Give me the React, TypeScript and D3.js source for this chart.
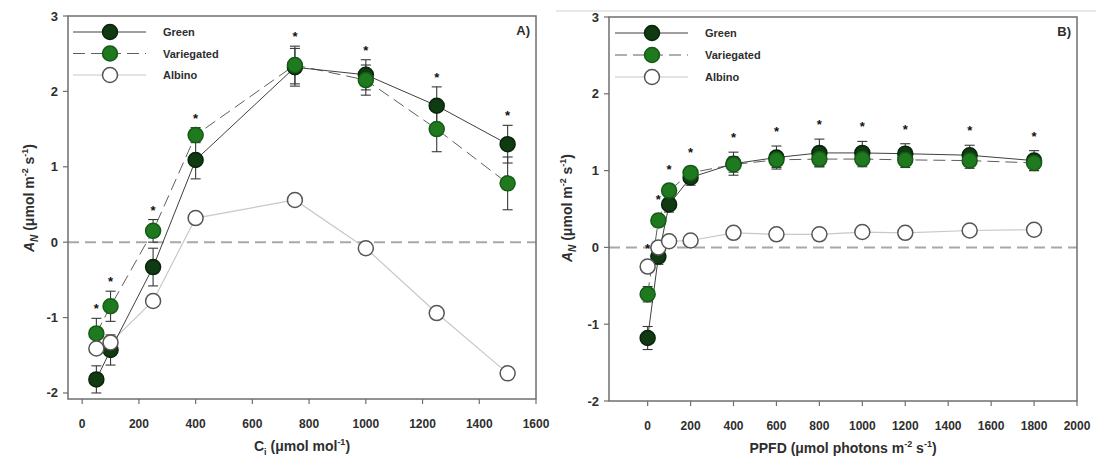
import React from "react";
import * as d3 from "d3";

// Panel A: response of net assimilation to intercellular CO2
const ciLevels = [50, 100, 250, 400, 750, 1000, 1250, 1500];
const ciGreen = [-1.82, -1.43, -0.33, 1.09, 2.32, 2.22, 1.81, 1.3];
const ciGreenErr = [0.18, 0.2, 0.25, 0.25, 0.25, 0.2, 0.25, 0.25];
const ciVariegated = [-1.21, -0.85, 0.15, 1.42, 2.35, 2.15, 1.5, 0.78];
const ciVariegatedErr = [0.2, 0.2, 0.15, 0.1, 0.25, 0.2, 0.3, 0.35];
const ciAlbino = [-1.41, -1.33, -0.78, 0.32, 0.56, -0.08, -0.94, -1.74];
const ciAlbinoErr = [0.05, 0.05, 0.05, 0.05, 0.05, 0.06, 0.05, 0.05];
const ciSignificant = [true, true, true, true, true, true, true, true];
const ciTicks = [0, 200, 400, 600, 800, 1000, 1200, 1400, 1600];

// Panel B: light response curve
const ppfdLevels = [0, 50, 100, 200, 400, 600, 800, 1000, 1200, 1500, 1800];
const ppfdGreen = [-1.18, -0.12, 0.56, 0.91, 1.09, 1.17, 1.23, 1.23, 1.22, 1.2, 1.13];
const ppfdGreenErr = [0.15, 0.1, 0.1, 0.1, 0.15, 0.15, 0.18, 0.15, 0.13, 0.13, 0.13];
const ppfdVariegated = [-0.61, 0.35, 0.74, 0.97, 1.08, 1.14, 1.15, 1.15, 1.14, 1.13, 1.1];
const ppfdVariegatedErr = [0.1, 0.08, 0.08, 0.08, 0.1, 0.1, 0.1, 0.1, 0.1, 0.1, 0.1];
const ppfdAlbino = [-0.25, 0.0, 0.08, 0.09, 0.19, 0.17, 0.17, 0.2, 0.19, 0.22, 0.23];
const ppfdAlbinoErr = [0.05, 0.05, 0.04, 0.04, 0.04, 0.04, 0.04, 0.04, 0.04, 0.04, 0.04];
const ppfdSignificant = [true, true, true, true, true, true, true, true, true, true, true];
const ppfdTicks = [0, 200, 400, 600, 800, 1000, 1200, 1400, 1600, 1800, 2000];

const yTicks = [-2, -1, 0, 1, 2, 3];
const seriesNames = ["Green", "Variegated", "Albino"];

const FONT = "'Liberation Sans', Arial, sans-serif";
const TEXT = "#2e2e2e";

type Series = {
  name: string;
  values: number[];
  errors: number[];
  fill: string;
  stroke: string;
  line: string;
  dash?: string;
  lineWidth: number;
};

type PanelProps = {
  x0: number;
  x1: number;
  yTop: number;
  yBottom: number;
  xDomain: [number, number];
  yDomain: [number, number];
  xs: number[];
  series: Series[];
  significant: boolean[];
  xTicks: number[];
  starOffset: number;
  tag: string;
  legendX: number;
  legendY: number;
  legendGap: number;
  yLabelX: number;
  yLabelY: number;
  xLabel: React.ReactNode;
};

function Panel(p: PanelProps) {
  const x = d3.scaleLinear().domain(p.xDomain).range([p.x0, p.x1]);
  const y = d3.scaleLinear().domain(p.yDomain).range([p.yBottom, p.yTop]);
  const r = 7.5;

  const lineGen = (vals: number[]) =>
    d3
      .line<number>()
      .x((_, i) => x(p.xs[i]))
      .y((v) => y(v))(vals) || "";

  const drawOrder = [...p.series];

  return (
    <g>
      {/* zero reference */}
      <line
        x1={p.x0}
        x2={p.x1}
        y1={y(0)}
        y2={y(0)}
        stroke="#a8a8a8"
        strokeWidth={2}
        strokeDasharray="11,6"
      />
      {/* connecting lines */}
      {drawOrder
        .slice()
        .reverse()
        .map((s) => (
          <path
            key={"l" + s.name}
            d={lineGen(s.values)}
            fill="none"
            stroke={s.line}
            strokeWidth={s.lineWidth}
            strokeDasharray={s.dash}
          />
        ))}
      {/* error bars */}
      {drawOrder.map((s) =>
        s.values.map((v, i) => {
          const cx = x(p.xs[i]);
          const t = y(v + s.errors[i]);
          const b = y(v - s.errors[i]);
          return (
            <g key={"e" + s.name + i} stroke="#383838" strokeWidth={1.1}>
              <line x1={cx} x2={cx} y1={t} y2={b} />
              <line x1={cx - 5} x2={cx + 5} y1={t} y2={t} />
              <line x1={cx - 5} x2={cx + 5} y1={b} y2={b} />
            </g>
          );
        })
      )}
      {/* markers */}
      {drawOrder.map((s) =>
        s.values.map((v, i) => (
          <circle
            key={"m" + s.name + i}
            cx={x(p.xs[i])}
            cy={y(v)}
            r={r}
            fill={s.fill}
            stroke={s.stroke}
            strokeWidth={1.5}
          />
        ))
      )}
      {/* significance marks */}
      {p.xs.map((xv, i) => {
        if (!p.significant[i]) return null;
        const top = d3.max(p.series, (s) => s.values[i] + s.errors[i]) as number;
        return (
          <text
            key={"s" + i}
            x={x(xv)}
            y={y(top) - p.starOffset + 7}
            textAnchor="middle"
            fontFamily={FONT}
            fontWeight="bold"
            fontSize={13}
            fill="#111"
          >
            *
          </text>
        );
      })}
      {/* frame */}
      <rect
        x={p.x0}
        y={p.yTop}
        width={p.x1 - p.x0}
        height={p.yBottom - p.yTop}
        fill="none"
        stroke="#6f6f6f"
        strokeWidth={1.5}
      />
      {/* y axis */}
      {yTicks.map((t) => (
        <g key={"yt" + t}>
          <line x1={p.x0 - 5} x2={p.x0} y1={y(t)} y2={y(t)} stroke="#6f6f6f" strokeWidth={1.2} />
          <text
            x={p.x0 - 10}
            y={y(t) + 4.5}
            textAnchor="end"
            fontFamily={FONT}
            fontWeight="bold"
            fontSize={13}
            fill={TEXT}
          >
            {t}
          </text>
        </g>
      ))}
      {/* x axis */}
      {p.xTicks.map((t) => (
        <g key={"xt" + t}>
          <line x1={x(t)} x2={x(t)} y1={p.yBottom} y2={p.yBottom + 5} stroke="#6f6f6f" strokeWidth={1.2} />
          <text
            x={x(t)}
            y={p.yBottom + 29}
            textAnchor="middle"
            fontFamily={FONT}
            fontWeight="bold"
            fontSize={12}
            fill={TEXT}
          >
            {t}
          </text>
        </g>
      ))}
      {/* panel tag */}
      <text x={p.x1 - 6} y={p.yTop + 19} textAnchor="end" fontFamily={FONT} fontWeight="bold" fontSize={13} fill={TEXT}>
        {p.tag}
      </text>
      {/* legend */}
      {p.series.map((s, i) => {
        const ly = p.legendY + i * p.legendGap;
        return (
          <g key={"lg" + s.name}>
            <line
              x1={p.legendX}
              x2={p.legendX + 73}
              y1={ly}
              y2={ly}
              stroke={s.line}
              strokeWidth={s.lineWidth}
              strokeDasharray={s.dash}
            />
            <circle cx={p.legendX + 37} cy={ly} r={r} fill={s.fill} stroke={s.stroke} strokeWidth={1.5} />
            <text x={p.legendX + 90} y={ly + 4} fontFamily={FONT} fontWeight="bold" fontSize={11} fill={TEXT}>
              {seriesNames[i]}
            </text>
          </g>
        );
      })}
      {/* y label */}
      <text
        transform={`translate(${p.yLabelX},${p.yLabelY}) rotate(-90)`}
        textAnchor="middle"
        fontFamily={FONT}
        fontWeight="bold"
        fontSize={14}
        fill={TEXT}
      >
        <tspan fontStyle="italic">A</tspan>
        <tspan fontStyle="italic" fontSize={10} dy={4}>
          N
        </tspan>
        <tspan dy={-4}> (μmol m</tspan>
        <tspan fontSize={9} dy={-6}>
          -2
        </tspan>
        <tspan dy={6}> s</tspan>
        <tspan fontSize={9} dy={-6}>
          -1
        </tspan>
        <tspan dy={6}>)</tspan>
      </text>
      {/* x label */}
      <text
        x={(p.x0 + p.x1) / 2}
        y={p.yBottom + 52}
        textAnchor="middle"
        fontFamily={FONT}
        fontWeight="bold"
        fontSize={14}
        fill={TEXT}
      >
        {p.xLabel}
      </text>
    </g>
  );
}

function makeSeries(g: number[], ge: number[], v: number[], ve: number[], a: number[], ae: number[]): Series[] {
  return [
    { name: "Green", values: g, errors: ge, fill: "#0f3a12", stroke: "#0a240b", line: "#404040", lineWidth: 1 },
    {
      name: "Variegated",
      values: v,
      errors: ve,
      fill: "#1f7a1f",
      stroke: "#155a15",
      line: "#5e5e5e",
      dash: "12,6",
      lineWidth: 1,
    },
    { name: "Albino", values: a, errors: ae, fill: "#ffffff", stroke: "#555555", line: "#c8c8c8", lineWidth: 1.2 },
  ];
}

export default function App() {
  const seriesA = makeSeries(ciGreen, ciGreenErr, ciVariegated, ciVariegatedErr, ciAlbino, ciAlbinoErr);
  const seriesB = makeSeries(ppfdGreen, ppfdGreenErr, ppfdVariegated, ppfdVariegatedErr, ppfdAlbino, ppfdAlbinoErr);
  return (
    <svg
      width={1096}
      height={465}
      style={{ position: "absolute", left: 0, top: 0, background: "#fff" }}
    >
      <rect width={1096} height={465} fill="#fff" />
      <line x1={556} x2={1096} y1={11} y2={11} stroke="#d0d0d0" strokeWidth={1} />
      <Panel
        x0={68}
        x1={536}
        yTop={16}
        yBottom={399}
        xDomain={[-50, 1600]}
        yDomain={[-2.08, 3]}
        xs={ciLevels}
        series={seriesA}
        significant={ciSignificant}
        xTicks={ciTicks}
        starOffset={12}
        tag="A)"
        legendX={73}
        legendY={32}
        legendGap={21.5}
        yLabelX={34}
        yLabelY={198}
        xLabel={
          <>
            <tspan>C</tspan>
            <tspan fontSize={9} dy={4}>
              i
            </tspan>
            <tspan dy={-4}> (μmol mol</tspan>
            <tspan fontSize={9} dy={-6}>
              -1
            </tspan>
            <tspan dy={6}>)</tspan>
          </>
        }
      />
      <Panel
        x0={609}
        x1={1077}
        yTop={17}
        yBottom={401}
        xDomain={[-180, 2000]}
        yDomain={[-2, 3]}
        xs={ppfdLevels}
        series={seriesB}
        significant={ppfdSignificant}
        xTicks={ppfdTicks}
        starOffset={17}
        tag="B)"
        legendX={615}
        legendY={33}
        legendGap={22}
        yLabelX={572}
        yLabelY={208}
        xLabel={
          <>
            <tspan>PPFD (μmol photons m</tspan>
            <tspan fontSize={9} dy={-6}>
              -2
            </tspan>
            <tspan dy={6}> s</tspan>
            <tspan fontSize={9} dy={-6}>
              -1
            </tspan>
            <tspan dy={6}>)</tspan>
          </>
        }
      />
    </svg>
  );
}
